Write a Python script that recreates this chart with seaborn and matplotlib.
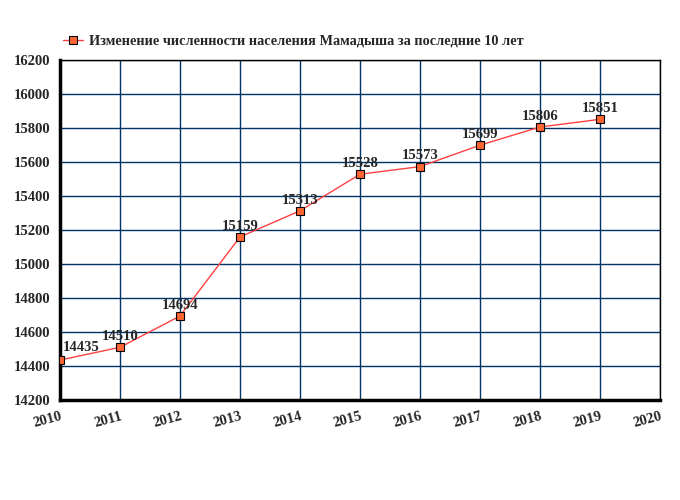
import matplotlib
matplotlib.use("Agg")
import matplotlib.pyplot as plt
import seaborn as sns
import pandas as pd

years = [2010, 2011, 2012, 2013, 2014, 2015, 2016, 2017, 2018, 2019]
population = [14435, 14510, 14694, 15159, 15313, 15528, 15573, 15699, 15806, 15851]
x_ticks = list(range(2010, 2021))
y_ticks = list(range(14200, 16201, 200))
legend_label = "Изменение численности населения Мамадыша за последние 10 лет"

sns.set_style("white")
plt.rcParams['font.family'] = ['Liberation Serif', 'DejaVu Serif']
plt.rcParams['font.weight'] = 'bold'

df = pd.DataFrame({"year": years, "pop": population})

fig = plt.figure(figsize=(6.8, 5), dpi=100)
ax = fig.add_axes([60/680, 0.2, 600/680, 0.68])

sns.lineplot(data=df, x="year", y="pop", ax=ax, color="#ff4040", linewidth=1,
             marker="s", markersize=5.5, markerfacecolor="#ff6633",
             markeredgecolor="black", markeredgewidth=0.8, label=legend_label, zorder=3)

ax.set_xlim(2010, 2020)
ax.set_ylim(14200, 16200)
ax.set_xticks(x_ticks)
ax.set_yticks(y_ticks)
ax.set_xticklabels([str(v) for v in x_ticks], rotation=15, ha='right',
                   rotation_mode='anchor', fontsize=10.5, fontweight='bold')
ax.set_yticklabels([str(v) for v in y_ticks], fontsize=10.5, fontweight='bold')
ax.grid(True, color="#003366", linewidth=1)
ax.set_axisbelow(True)
ax.set_xlabel("")
ax.set_ylabel("")
ax.tick_params(axis='both', length=4, width=1, color='black', direction='out', pad=3)

for side in ['left', 'bottom']:
    ax.spines[side].set_linewidth(2.5)
    ax.spines[side].set_color('black')
for side in ['top', 'right']:
    ax.spines[side].set_linewidth(1)
    ax.spines[side].set_color('black')

for i, (xv, yv) in enumerate(zip(years, population)):
    if i == 0:
        ax.annotate(str(yv), (xv, yv), xytext=(2, 4), textcoords='offset points',
                    ha='left', va='bottom', fontsize=10.5, fontweight='bold')
    else:
        ax.annotate(str(yv), (xv, yv), xytext=(0, 3), textcoords='offset points',
                    ha='center', va='bottom', fontsize=10.5, fontweight='bold')

leg = ax.legend(loc='lower left', bbox_to_anchor=(-0.012, 1.006), frameon=False,
                fontsize=10.3, handlelength=1.4, handletextpad=0.4, borderaxespad=0.3)
for t in leg.get_texts():
    t.set_fontweight('bold')

fig.savefig("out.png", dpi=100)
